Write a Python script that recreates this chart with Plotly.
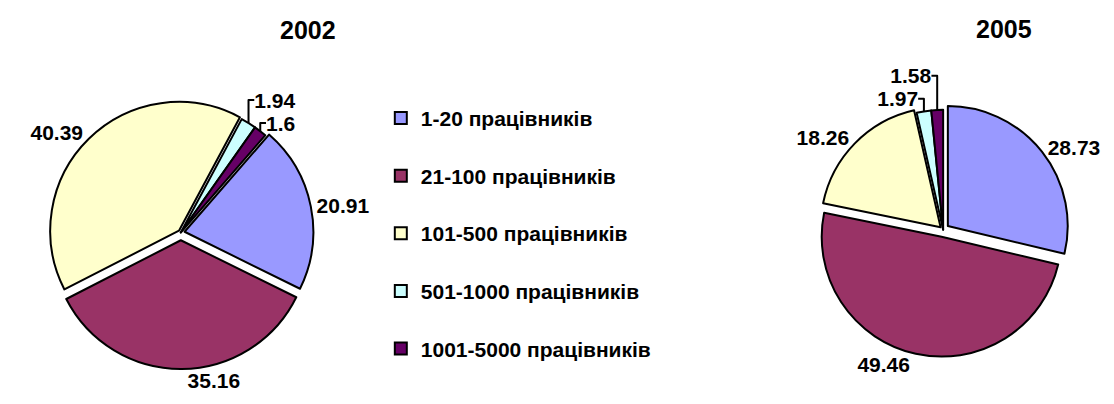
import plotly.graph_objects as go

# categories and shares (%)
groups = ["1-20 працівників", "21-100 працівників", "101-500 працівників",
          "501-1000 працівників", "1001-5000 працівників"]
share_2002 = [20.91, 35.16, 40.39, 1.94, 1.6]
share_2005 = [28.73, 49.46, 18.26, 1.97, 1.58]
years = ["2002", "2005"]

colours = ["#9999FF", "#993366", "#FFFFCC", "#CCFFFF", "#660066"]

# trailing empty line makes the legend rows taller, like the original
legend_labels = [g + "<br> " for g in groups]

FONT = "Arial, Liberation Sans, sans-serif"
label_font = dict(family = FONT, size = 21, color = "black", weight = "bold")

fig = go.Figure()
fig.add_trace(go.Pie(
    labels = legend_labels, values = share_2002, sort = False,
    direction = "clockwise", rotation = 41,
    pull = [0.03, 0.06, 0.02, 0, 0],
    marker = dict(colors = colours, line = dict(color = "black", width = 2)),
    texttemplate = "%{value}", textposition = "outside", textfont = label_font,
    domain = dict(x = [0.0242, 0.2774], y = [0.0767, 0.7748]),
    hoverinfo = "label+value"))
fig.add_trace(go.Pie(
    labels = legend_labels, values = share_2005, sort = False,
    direction = "clockwise", rotation = 0,
    pull = [0.05, 0.06, 0.03, 0, 0],
    marker = dict(colors = colours, line = dict(color = "black", width = 2)),
    texttemplate = "%{value}", textposition = "outside", textfont = label_font,
    domain = dict(x = [0.7348, 0.9708], y = [0.108, 0.758]),
    hoverinfo = "label+value"))

title_font = dict(family = FONT, size = 25, color = "black", weight = "bold")
fig.add_annotation(x = 298 / 1114, y = 1 - 23 / 404, xref = "paper", yref = "paper",
                   xanchor = "center", yanchor = "middle",
                   text = years[0], showarrow = False, font = title_font)
fig.add_annotation(x = 1012 / 1114, y = 1 - 22 / 404, xref = "paper", yref = "paper",
                   xanchor = "center", yanchor = "middle",
                   text = years[1], showarrow = False, font = title_font)

fig.update_layout(
    width = 1114, height = 404,
    margin = dict(l = 0, r = 0, t = 0, b = 0),
    paper_bgcolor = "white", plot_bgcolor = "white",
    legend = dict(x = 0.335, y = 0.77, xanchor = "left", yanchor = "top",
                  valign = "top", traceorder = "normal",
                  font = dict(family = FONT, size = 21, color = "black", weight = "bold")),
    showlegend = True)

fig.write_html("out.html")
